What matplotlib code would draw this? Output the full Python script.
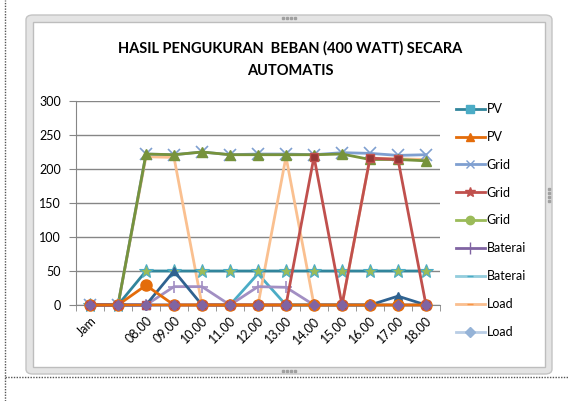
import matplotlib
matplotlib.use('Agg')
import matplotlib.pyplot as plt
import matplotlib.lines as mlines
import matplotlib.patches as mpatches

plt.rcParams['font.family'] = ['Lato', 'DejaVu Sans']

# data
jam = ['Jam', '', '08.00', '09.00', '10.00', '11.00', '12.00', '13.00',
       '14.00', '15.00', '16.00', '17.00', '18.00']
pv1 = [0, 0, 50, 50, 50, 50, 50, 50, 50, 50, 50, 50, 50]
pv2 = [0, 0, 29, 0, 0, 0, 0, 0, 0, 0, 0, 0, 0]
grid1 = [0, 0, 222, 221, 225, 221, 222, 222, 221, 224, 223, 220, 221]
grid2 = [0, 0, 0, 0, 0, 0, 0, 0, 218, 0, 216, 214, 0]
grid3 = [0, 0, 222, 221, 225, 221, 221, 221, 221, 222, 214, 214, 212]
bat1 = [0, 0, 0, 27, 27, 0, 27, 26, 0, 0, 0, 0, 0]
bat2 = [0, 0, 0, 0, 0, 0, 46, 0, 0, 0, 0, 0, 0]
load1 = [0, 0, 218, 217, 0, 0, 0, 218, 0, 0, 216, 215, 214]
load2 = [0, 0, 0, 0, 0, 0, 0, 0, 0, 0, 0, 0, 0]
extra = [0, 0, 0, 50, 0, 0, 0, 0, 0, 0, 0, 13, 0]

W, H = 568, 401
fig = plt.figure(figsize=(W / 100, H / 100), dpi=100)

def fx(x):
    return x / W

def fy(y):
    return 1 - y / H

# outer frame (Excel chart object look)
fig.patches.append(mpatches.FancyBboxPatch((fx(26), fy(374)), fx(526), 359 / H,
                   boxstyle='round,pad=0,rounding_size=0.012', transform=fig.transFigure,
                   facecolor='#E4E4E4', edgecolor='#C4C4C4', lw=1, zorder=-2))
fig.patches.append(mpatches.Rectangle((fx(33), fy(367)), fx(512), 345 / H,
                   transform=fig.transFigure, facecolor='white', edgecolor='#BDBDBD',
                   lw=1, zorder=-1))
fig.lines.append(mlines.Line2D([fx(5), fx(5)], [0, 1], transform=fig.transFigure,
                 color='#555555', lw=1, linestyle=(0, (1, 1))))
fig.lines.append(mlines.Line2D([fx(5), 1], [fy(377), fy(377)], transform=fig.transFigure,
                 color='#555555', lw=1, linestyle=(0, (1, 1))))
for xs, ys in [([283, 287, 291, 295], [18] * 4), ([283, 287, 291, 295], [371] * 4),
               ([549] * 4, [189, 193, 197, 201])]:
    fig.lines.append(mlines.Line2D([fx(v) for v in xs], [fy(v) for v in ys],
                     transform=fig.transFigure, linestyle='None', marker='s',
                     markersize=1.5, color='#A0A0A0'))

ax = fig.add_axes([fx(76), fy(305), 364 / W, 204 / H])
ax.set_zorder(2)
ax.patch.set_visible(False)
x = list(range(len(jam)))

ax.plot(x, bat2, color='#4BACC6', lw=2, marker='_', markersize=6, zorder=2, clip_on=False)
ax.plot(x, load1, color='#FAC090', lw=2, marker='_', markersize=6, zorder=3, clip_on=False)
ax.plot(x, grid1, color='#7F9FD0', lw=2, marker='x', markersize=8, mew=1.2, zorder=4)
ax.plot(x, grid3, color='#77933C', lw=2, marker='^', markersize=7, zorder=5)
ax.plot(x, pv1, color='#31859C', lw=2, marker='*', markersize=10,
        markerfacecolor='#9BBB59', markeredgecolor='#4BACC6', mew=0.8, zorder=6,
        clip_on=False)
ax.plot(x, bat1, color='#A28FC3', lw=2, marker='+', markersize=8, mew=1.2, zorder=7,
        clip_on=False)
ax.plot(x, extra, color='#2F6290', lw=2, marker='^', markersize=6, zorder=8, clip_on=False)
ax.plot(x, pv2, color='#E46C0A', lw=2, marker='o', markersize=8, zorder=9, clip_on=False)
ax.plot(x, grid2, color='#C0504D', lw=2, marker='s', markersize=6,
        markerfacecolor='#953735', markeredgecolor='#C0504D', zorder=10, clip_on=False)
ax.plot(x, load2, color='#E46C0A', lw=1.5, marker='D', markersize=5,
        markerfacecolor='#8064A2', markeredgecolor='#8064A2', zorder=11, clip_on=False)

ax.set_xlim(-0.5, 12.5)
ax.set_ylim(0, 300)
ax.set_yticks([0, 50, 100, 150, 200, 250, 300])
ax.set_xticks(x)
ax.set_xticklabels(jam, rotation=45, ha='right', va='top', rotation_mode='anchor',
                   fontsize=9)
ax.set_xticks([v + 0.5 for v in range(-1, 13)], minor=True)
ax.tick_params(axis='x', which='major', length=0, pad=7)
ax.tick_params(axis='x', which='minor', length=4, color='#868686', direction='out')
ax.tick_params(axis='y', length=5, color='#868686', pad=6, labelsize=9)
ax.grid(axis='y', color='#868686', lw=1)
ax.set_axisbelow(True)
for s in ['top', 'right']:
    ax.spines[s].set_visible(False)
for s in ['left', 'bottom']:
    ax.spines[s].set_color('#868686')

fig.text(fx(290), fy(48), 'HASIL PENGUKURAN  BEBAN (400 WATT) SECARA',
         ha='center', va='center', fontsize=10.5, fontweight='bold')
fig.text(fx(290), fy(71), 'AUTOMATIS', ha='center', va='center',
         fontsize=10.5, fontweight='bold')

# legend, as drawn in the reference
h1 = mlines.Line2D([], [], color='#31859C', lw=2, marker='s', markersize=6,
                   markerfacecolor='#4BACC6', markeredgecolor='#4BACC6', label='PV')
h2 = mlines.Line2D([], [], color='#E46C0A', lw=2, marker='^', markersize=6, label='PV')
h3 = mlines.Line2D([], [], color='#7F9FD0', lw=2, marker='x', markersize=6, label='Grid')
h4 = mlines.Line2D([], [], color='#C0504D', lw=2, marker='*', markersize=7, label='Grid')
h5 = mlines.Line2D([], [], color='#9BBB59', lw=2, marker='o', markersize=6, label='Grid')
h6 = mlines.Line2D([], [], color='#8064A2', lw=2, marker='|', markersize=8, label='Baterai')
h7 = mlines.Line2D([], [], color='#93CDDD', lw=2, marker='_', markersize=5,
                   markeredgecolor='#4BACC6', label='Baterai')
h8 = mlines.Line2D([], [], color='#FABF8F', lw=2, marker='_', markersize=5,
                   markeredgecolor='#F79646', label='Load')
h9 = mlines.Line2D([], [], color='#B9CDE5', lw=2, marker='D', markersize=5,
                   markerfacecolor='#95B3D7', markeredgecolor='#95B3D7', label='Load')
fig.legend(handles=[h1, h2, h3, h4, h5, h6, h7, h8, h9], loc='upper left',
           bbox_to_anchor=(fx(456), fy(103)), frameon=False, fontsize=9,
           handlelength=2.3, handletextpad=0.15, labelspacing=1.27,
           borderaxespad=0, borderpad=0)

fig.savefig('out.png', dpi=100)
